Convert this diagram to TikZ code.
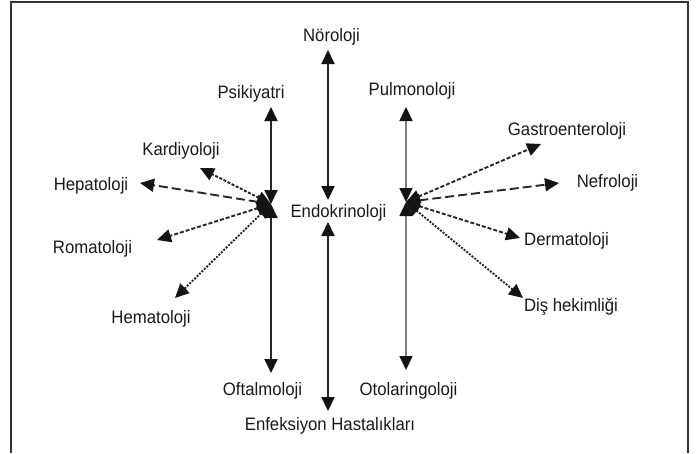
\documentclass[tikz,border=0pt]{standalone}
\usepackage{fontspec}
\setmainfont{Liberation Sans}[FakeStretch=0.93]
\usetikzlibrary{arrows.meta}
\begin{document}
\begin{tikzpicture}[x=1pt,y=-1pt,
  lab/.style={font=\fontsize{18}{20}\selectfont, text=black!90, inner sep=0pt, anchor=base},
  tipboth/.style={{Triangle[length=14pt,width=13pt,color=black!92]}-{Triangle[length=14pt,width=13pt,color=black!92]}},
  axisline/.style={tipboth, line width=2pt, draw=black!85},
  grayaxis/.style={tipboth, line width=1.6pt, draw=black!50},
  spoke/.style={tipboth, line width=1.9pt, draw=black!85},
  longdash/.style={dash pattern=on 9pt off 4pt},
  middash/.style={dash pattern=on 4pt off 2pt},
  shortdash/.style={dash pattern=on 3pt off 1.6pt},
  dotline/.style={dash pattern=on 2pt off 1.4pt},
  frame/.style={line width=1.2pt, draw=black!80}]
\useasboundingbox (0,0) rectangle (696,453);
% frame
\coordinate (fbl) at (11,453);
\coordinate (ftl) at (11,2);
\coordinate (ftr) at (688,2);
\coordinate (fbr) at (688,453);
\draw[frame] (fbl) -- (ftl) -- (ftr) -- (fbr);

% labels
\node[lab] (noro) at (331.5,41) {Nöroloji};
\node[lab] (psik) at (251,98) {Psikiyatri};
\node[lab] (kard) at (181,155) {Kardiyoloji};
\node[lab] (hepa) at (91,190) {Hepatoloji};
\node[lab] (endo) at (338.5,217) {Endokrinoloji};
\node[lab] (pulm) at (412,95) {Pulmonoloji};
\node[lab] (gast) at (567,135) {Gastroenteroloji};
\node[lab] (nefr) at (607.5,187) {Nefroloji};
\node[lab] (derm) at (566.5,245) {Dermatoloji};
\node[lab] (dish) at (571,311) {Diş hekimliği};
\node[lab] (otol) at (408.5,395) {Otolaringoloji};
\node[lab] (enfe) at (330,430) {Enfeksiyon Hastalıkları};
\node[lab] (ofta) at (262.5,395) {Oftalmoloji};
\node[lab] (hema) at (151,323) {Hematoloji};
\node[lab] (roma) at (92.5,253) {Romatoloji};

% hubs and arrow tips
\coordinate (L) at (271,204);
\coordinate (R) at (406,202);
\coordinate (psikT) at (271,107);
\coordinate (oftaT) at (271,373);
\coordinate (noroT) at (328,50);
\coordinate (endoU) at (328,200);
\coordinate (endoD) at (328,222);
\coordinate (enfeT) at (328,411);
\coordinate (pulmT) at (406,107);
\coordinate (otolT) at (406,370);
\coordinate (kardT) at (200,168);
\coordinate (hepaT) at (140,183);
\coordinate (romaT) at (157,240);
\coordinate (hemaT) at (175,298);
\coordinate (gastT) at (541,144);
\coordinate (nefrT) at (559,183);
\coordinate (dermT) at (520,238);
\coordinate (dishT) at (523,298);

% vertical axes
\draw[axisline] (L) -- (psikT);
\draw[axisline] (L) -- (oftaT);
\draw[axisline] (endoU) -- (noroT);
\draw[axisline] (endoD) -- (enfeT);
\draw[grayaxis] (R) -- (pulmT);
\draw[grayaxis] (R) -- (otolT);

% left spokes
\draw[spoke, shortdash] (L) -- (kardT);
\draw[spoke, longdash] (L) -- (hepaT);
\draw[spoke, middash] (L) -- (romaT);
\draw[spoke, dotline] (L) -- (hemaT);

% right spokes
\draw[spoke, middash] (R) -- (gastT);
\draw[spoke, longdash] (R) -- (nefrT);
\draw[spoke, middash] (R) -- (dermT);
\draw[spoke, dotline] (R) -- (dishT);
\end{tikzpicture}
\end{document}
